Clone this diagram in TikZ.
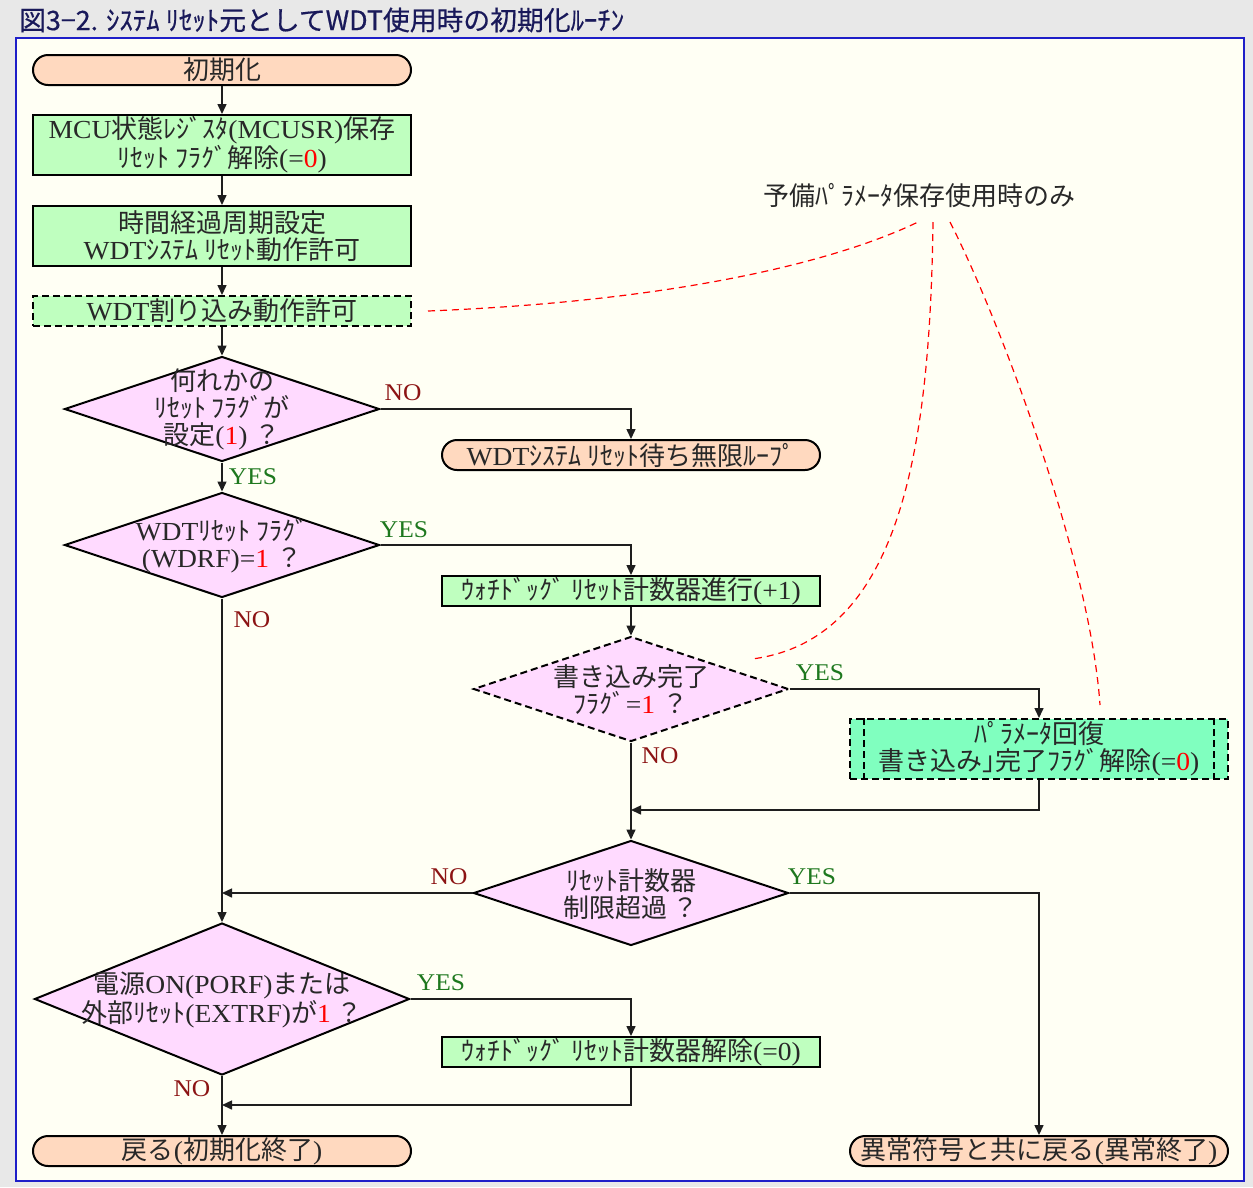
\documentclass[tikz,border=0pt]{standalone}
\usepackage{fontspec}
\usetikzlibrary{shapes.geometric,arrows.meta}
\newfontfamily\jpfont{Noto Sans CJK JP}
\newfontfamily\titlefont{Noto Sans CJK JP}[FakeBold=0.5]
\newfontfamily\lafont{Liberation Serif}[FakeStretch=1.06]

% automatic font switching between Japanese and Latin runs
\XeTeXinterchartokenstate=1
\newXeTeXintercharclass\JPclass
\makeatletter
\newcommand\setcharclass[3]{%
  \count@=#1\relax
  \loop
    \XeTeXcharclass\count@=#3\relax
  \ifnum\count@<#2\relax
    \advance\count@ by 1\relax
  \repeat}
\makeatother
\setcharclass{"21}{"7E}{0}
\setcharclass{"3000}{"30FF}{\JPclass}
\setcharclass{"4E00}{"9FFF}{\JPclass}
\setcharclass{"FF00}{"FFEF}{\JPclass}
\XeTeXinterchartoks 0 \JPclass = {\jpfont}
\XeTeXinterchartoks 4095 \JPclass = {\jpfont}
\XeTeXinterchartoks \JPclass 0 = {\lafont}
\XeTeXinterchartoks 4095 0 = {\lafont}

\definecolor{outerbg}{RGB}{232,232,232}
\definecolor{panelbg}{RGB}{255,255,244}
\definecolor{panelblue}{RGB}{30,30,200}
\definecolor{titleblue}{RGB}{25,25,90}
\definecolor{peach}{RGB}{255,217,191}
\definecolor{pgreen}{RGB}{191,255,191}
\definecolor{pmint}{RGB}{128,255,191}
\definecolor{dpink}{RGB}{255,218,255}
\definecolor{txt}{RGB}{40,40,40}
\definecolor{nored}{RGB}{140,20,20}
\definecolor{yesgreen}{RGB}{30,120,30}
\definecolor{lineg}{RGB}{30,30,30}

\begin{document}
\begin{tikzpicture}[x=1pt,y=-1pt,
  every node/.style={inner sep=0pt, text=txt, align=center},
  bodyfont/.style={font=\fontsize{26}{27}\selectfont},
  box/.style={bodyfont, draw=black, line width=2pt, minimum width=378pt},
  term/.style={box, fill=peach, rounded corners=15pt, minimum height=30pt},
  proc/.style={box, fill=pgreen, minimum height=60pt},
  procone/.style={box, fill=pgreen, minimum height=30pt},
  optbox/.style={dash pattern=on 7pt off 4pt},
  decision/.style={diamond, draw=black, line width=2pt, fill=dpink,
    minimum width=315pt, minimum height=105pt},
  dtext/.style={bodyfont},
  conn/.style={draw=lineg, line width=1.5pt, -{Triangle[length=10pt,width=9pt]}},
  nolab/.style={font=\lafont\fontsize{24}{24}\selectfont, text=nored},
  yeslab/.style={font=\lafont\fontsize{24}{24}\selectfont, text=yesgreen},
  guide/.style={draw=red, line width=1.2pt, dash pattern=on 7pt off 5pt}
]
\useasboundingbox (0,0) rectangle (1253,1187);
\fill[outerbg] (0,0) rectangle (1253,1187);
\filldraw[fill=panelbg, draw=panelblue, line width=2pt] (16,38) rectangle (1244,1181);

\node[anchor=west, text=titleblue, font=\titlefont\fontsize{26.8}{26.8}\selectfont] (title) at (19,20)
  {\XeTeXinterchartokenstate=0\relax 図3−2. ｼｽﾃﾑ ﾘｾｯﾄ元としてWDT使用時の初期化ﾙｰﾁﾝ};

% main column
\node[term] (init) at (222,70) {初期化};
\node[proc] (mcu) at (222,145) {MCU状態ﾚｼﾞｽﾀ(MCUSR)保存\\ﾘｾｯﾄ ﾌﾗｸﾞ解除(=\textcolor{red}{0})};
\node[proc] (timer) at (222,236) {時間経過周期設定\\WDTｼｽﾃﾑ ﾘｾｯﾄ動作許可};
\node[procone, optbox] (wdtint) at (222,311) {WDT割り込み動作許可};
\node[decision] (d1) at (222,409) {};
\node[dtext] (d1t) at (222,409) {何れかの\\ﾘｾｯﾄ ﾌﾗｸﾞが\\設定(\textcolor{red}{1}) ？};
\node[decision] (d2) at (222,545) {};
\node[dtext] (d2t) at (222,546) {WDTﾘｾｯﾄ ﾌﾗｸﾞ\\(WDRF)=\textcolor{red}{1} ？};
\node[decision, minimum width=375pt, minimum height=152pt] (d4) at (222,999) {};
\node[dtext] (d4t) at (222,1000) {電源ON(PORF)または\\外部ﾘｾｯﾄ(EXTRF)が\textcolor{red}{1} ？};
\node[term] (ret1) at (222,1151) {戻る(初期化終了)};

% middle column
\node[term] (loop) at (631,455) {WDTｼｽﾃﾑ ﾘｾｯﾄ待ち無限ﾙｰﾌﾟ};
\node[procone] (inc) at (631,591) {ｳｫﾁﾄﾞｯｸﾞ ﾘｾｯﾄ計数器進行(+1)};
\node[decision, optbox] (d3) at (631,689) {};
\node[dtext] (d3t) at (631,690) {書き込み完了\\ﾌﾗｸﾞ=\textcolor{red}{1} ？};
\node[decision] (d5) at (631,893) {};
\node[dtext] (d5t) at (631,894) {ﾘｾｯﾄ計数器\\制限超過 ？};
\node[procone] (clr) at (631,1052) {ｳｫﾁﾄﾞｯｸﾞ ﾘｾｯﾄ計数器解除(=0)};

% right column
\node[proc, fill=pmint, optbox] (param) at (1039,749)
  {ﾊﾟﾗﾒｰﾀ回復\\書き込み｣完了ﾌﾗｸﾞ解除(=\textcolor{red}{0})};
\draw[optbox, line width=1.5pt] ([xshift=15pt]param.north west) -- ([xshift=15pt]param.south west);
\draw[optbox, line width=1.5pt] ([xshift=-15pt]param.north east) -- ([xshift=-15pt]param.south east);
\node[term] (ret2) at (1039,1151) {異常符号と共に戻る(異常終了)};
\node[bodyfont] (note) at (919,196) {予備ﾊﾟﾗﾒｰﾀ保存使用時のみ};

% connectors
\draw[conn] (init.south) -- (mcu.north);
\draw[conn] (mcu.south) -- (timer.north);
\draw[conn] (timer.south) -- (wdtint.north);
\draw[conn] (wdtint.south) -- (d1.north);
\draw[conn] (d1.east) -| (loop.north);
\draw[conn] (d1.south) -- (d2.north);
\draw[conn] (d2.east) -| (inc.north);
\draw[conn] (d2.south) -- (d4.north);
\draw[conn] (inc.south) -- (d3.north);
\draw[conn] (d3.east) -| (param.north);
\draw[conn] (d3.south) -- (d5.north);
\coordinate (j1) at (631,810);
\draw[conn] (param.south) |- (j1);
\coordinate (j2) at (222,893);
\draw[conn] (d5.west) -- (j2);
\draw[conn] (d5.east) -| (ret2.north);
\draw[conn] (d4.east) -| (clr.north);
\draw[conn] (d4.south) -- (ret1.north);
\coordinate (j3) at (222,1105);
\draw[conn] (clr.south) |- (j3);

% branch labels
\node[nolab] (n1) at (403,393) {NO};
\node[yeslab] (y1) at (253,477) {YES};
\node[yeslab] (y2) at (404,530) {YES};
\node[nolab] (n2) at (252,620) {NO};
\node[yeslab] (y3) at (820,673) {YES};
\node[nolab] (n3) at (660,756) {NO};
\node[nolab] (n5) at (449,877) {NO};
\node[yeslab] (y5) at (812,877) {YES};
\node[yeslab] (y4) at (441,983) {YES};
\node[nolab] (n4) at (192,1089) {NO};

% optional-parameter guide curves
\coordinate (ga) at ([xshift=16pt]wdtint.east);
\coordinate (gb) at (752,659);
\coordinate (gc) at (1100,705);
\coordinate (na) at (918,222);
\coordinate (nb) at (933,222);
\coordinate (nc) at (950,222);
\draw[guide] (ga) .. controls (700,300) and (850,255) .. (na);
\draw[guide] (nb) .. controls (930,450) and (900,640) .. (gb);
\draw[guide] (nc) .. controls (1000,320) and (1090,560) .. (gc);
\end{tikzpicture}
\end{document}
